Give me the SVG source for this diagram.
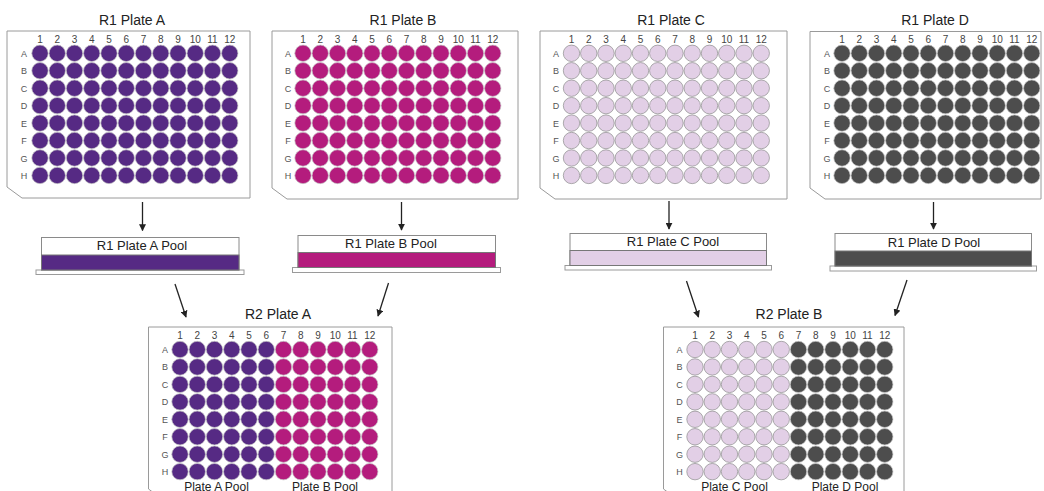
<svg xmlns="http://www.w3.org/2000/svg" xmlns:xlink="http://www.w3.org/1999/xlink" width="1044" height="491" viewBox="0 0 1044 491">
<style>
text{font-family:"Liberation Sans",Arial,sans-serif;}
.title{font-size:14px;fill:#222;text-anchor:middle;}
.pooltxt{font-size:13px;fill:#222;text-anchor:middle;}
.cn{font-size:10px;fill:#444;text-anchor:middle;}
.rl{font-size:9px;fill:#555;text-anchor:middle;}
.bl{font-size:12px;fill:#222;text-anchor:middle;}
.plate{fill:#fff;stroke:#9a9a9a;stroke-width:1;}
.pw{fill:#fff;stroke:#8a8a8a;stroke-width:1;}
.base{fill:#fff;stroke:#9a9a9a;stroke-width:1;}
.purple{fill:#562a84;stroke:#c4c4c4;stroke-width:0.7;}
.magenta{fill:#b41c7d;stroke:#c4c4c4;stroke-width:0.7;}
.lilac{fill:#e2cfe6;stroke:#8c8c8c;stroke-width:0.7;}
.dark{fill:#4d4d4d;stroke:#c4c4c4;stroke-width:0.7;}
.arrow{stroke:#222;stroke-width:1.3;fill:none;marker-end:url(#ah);}
</style>
<defs>
<marker id="ah" viewBox="0 0 10 10" refX="9" refY="5" markerWidth="7" markerHeight="7" markerUnits="userSpaceOnUse" orient="auto">
<path d="M0,0 L10,5 L0,10 Z" fill="#222"/>
</marker>
<g id="half">
<circle cx="0" cy="0" r="8.2"/><circle cx="17.25" cy="0" r="8.2"/><circle cx="34.5" cy="0" r="8.2"/><circle cx="51.75" cy="0" r="8.2"/><circle cx="69" cy="0" r="8.2"/><circle cx="86.25" cy="0" r="8.2"/>
</g>
<g id="halfwells">
<use xlink:href="#half" y="0"/><use xlink:href="#half" y="17.45"/><use xlink:href="#half" y="34.9"/><use xlink:href="#half" y="52.35"/><use xlink:href="#half" y="69.8"/><use xlink:href="#half" y="87.25"/><use xlink:href="#half" y="104.7"/><use xlink:href="#half" y="122.15"/>
</g>
</defs>

<g id="r1-plate-a">
<text class="title" x="132" y="25">R1 Plate A</text>
<path class="plate" d="M7,31 H250 V198 H22 L7,187 Z"/>
<text class="cn" y="43"><tspan x="40">1</tspan><tspan x="57.25">2</tspan><tspan x="74.5">3</tspan><tspan x="91.75">4</tspan><tspan x="109">5</tspan><tspan x="126.25">6</tspan><tspan x="143.5">7</tspan><tspan x="160.75">8</tspan><tspan x="178">9</tspan><tspan x="195.25">10</tspan><tspan x="212.5">11</tspan><tspan x="229.75">12</tspan></text>
<text class="rl"><tspan x="24" y="56.8">A</tspan><tspan x="24" y="74.25">B</tspan><tspan x="24" y="91.7">C</tspan><tspan x="24" y="109.15">D</tspan><tspan x="24" y="126.6">E</tspan><tspan x="24" y="144.05">F</tspan><tspan x="24" y="161.5">G</tspan><tspan x="24" y="178.95">H</tspan></text>
<g class="purple"><use xlink:href="#halfwells" x="40" y="53.3"/><use xlink:href="#halfwells" x="143.5" y="53.3"/></g>
</g>

<g id="r1-plate-b">
<text class="title" x="403" y="25">R1 Plate B</text>
<path class="plate" d="M272,31 H518 V199 H287 L272,188 Z"/>
<text class="cn" y="43"><tspan x="303">1</tspan><tspan x="320.25">2</tspan><tspan x="337.5">3</tspan><tspan x="354.75">4</tspan><tspan x="372">5</tspan><tspan x="389.25">6</tspan><tspan x="406.5">7</tspan><tspan x="423.75">8</tspan><tspan x="441">9</tspan><tspan x="458.25">10</tspan><tspan x="475.5">11</tspan><tspan x="492.75">12</tspan></text>
<text class="rl"><tspan x="288" y="56.8">A</tspan><tspan x="288" y="74.25">B</tspan><tspan x="288" y="91.7">C</tspan><tspan x="288" y="109.15">D</tspan><tspan x="288" y="126.6">E</tspan><tspan x="288" y="144.05">F</tspan><tspan x="288" y="161.5">G</tspan><tspan x="288" y="178.95">H</tspan></text>
<g class="magenta"><use xlink:href="#halfwells" x="303" y="53.3"/><use xlink:href="#halfwells" x="406.5" y="53.3"/></g>
</g>

<g id="r1-plate-c">
<text class="title" x="671" y="25">R1 Plate C</text>
<path class="plate" d="M540,31 H787 V199 H555 L540,188 Z"/>
<text class="cn" y="43"><tspan x="571.5">1</tspan><tspan x="588.75">2</tspan><tspan x="606">3</tspan><tspan x="623.25">4</tspan><tspan x="640.5">5</tspan><tspan x="657.75">6</tspan><tspan x="675">7</tspan><tspan x="692.25">8</tspan><tspan x="709.5">9</tspan><tspan x="726.75">10</tspan><tspan x="744">11</tspan><tspan x="761.25">12</tspan></text>
<text class="rl"><tspan x="556" y="56.8">A</tspan><tspan x="556" y="74.25">B</tspan><tspan x="556" y="91.7">C</tspan><tspan x="556" y="109.15">D</tspan><tspan x="556" y="126.6">E</tspan><tspan x="556" y="144.05">F</tspan><tspan x="556" y="161.5">G</tspan><tspan x="556" y="178.95">H</tspan></text>
<g class="lilac"><use xlink:href="#halfwells" x="571.5" y="53.3"/><use xlink:href="#halfwells" x="675" y="53.3"/></g>
</g>

<g id="r1-plate-d">
<text class="title" x="935" y="25">R1 Plate D</text>
<path class="plate" d="M810,31.5 H1041 V199 H825 L810,188 Z"/>
<text class="cn" y="43"><tspan x="842">1</tspan><tspan x="859.25">2</tspan><tspan x="876.5">3</tspan><tspan x="893.75">4</tspan><tspan x="911">5</tspan><tspan x="928.25">6</tspan><tspan x="945.5">7</tspan><tspan x="962.75">8</tspan><tspan x="980">9</tspan><tspan x="997.25">10</tspan><tspan x="1014.5">11</tspan><tspan x="1031.75">12</tspan></text>
<text class="rl"><tspan x="827" y="56.8">A</tspan><tspan x="827" y="74.25">B</tspan><tspan x="827" y="91.7">C</tspan><tspan x="827" y="109.15">D</tspan><tspan x="827" y="126.6">E</tspan><tspan x="827" y="144.05">F</tspan><tspan x="827" y="161.5">G</tspan><tspan x="827" y="178.95">H</tspan></text>
<g class="dark"><use xlink:href="#halfwells" x="842" y="53.3"/><use xlink:href="#halfwells" x="945.5" y="53.3"/></g>
</g>

<g id="pool-a">
<rect class="base" x="36" y="270" width="208" height="4.5"/>
<rect class="pw" x="41.5" y="237.5" width="197.5" height="32.5"/>
<rect x="41.5" y="255" width="197.5" height="15" fill="#562a84" stroke="#777" stroke-width="1"/>
<text class="pooltxt" x="142" y="249.5">R1 Plate A Pool</text>
</g>

<g id="pool-b">
<rect class="base" x="292.5" y="267.5" width="208" height="5"/>
<rect class="pw" x="298" y="235.5" width="197.5" height="32"/>
<rect x="298" y="252.5" width="197.5" height="15" fill="#b41c7d" stroke="#777" stroke-width="1"/>
<text class="pooltxt" x="391" y="248">R1 Plate B Pool</text>
</g>

<g id="pool-c">
<rect class="base" x="565" y="265.5" width="206.5" height="4.5"/>
<rect class="pw" x="570" y="233.5" width="196.5" height="32"/>
<rect x="570" y="250.5" width="196.5" height="15" fill="#e2cfe6" stroke="#777" stroke-width="1"/>
<text class="pooltxt" x="673" y="246">R1 Plate C Pool</text>
</g>

<g id="pool-d">
<rect class="base" x="830" y="266" width="206.5" height="5"/>
<rect class="pw" x="835" y="233.5" width="196.5" height="32.5"/>
<rect x="835" y="251" width="196.5" height="15" fill="#4d4d4d" stroke="#777" stroke-width="1"/>
<text class="pooltxt" x="934" y="246.5">R1 Plate D Pool</text>
</g>

<g id="r2-plate-a">
<text class="title" x="278" y="319">R2 Plate A</text>
<path class="plate" d="M148.5,327 H392 V500 H163.5 L148.5,489 Z"/>
<text class="cn" y="339"><tspan x="180">1</tspan><tspan x="197.25">2</tspan><tspan x="214.5">3</tspan><tspan x="231.75">4</tspan><tspan x="249">5</tspan><tspan x="266.25">6</tspan><tspan x="283.5">7</tspan><tspan x="300.75">8</tspan><tspan x="318">9</tspan><tspan x="335.25">10</tspan><tspan x="352.5">11</tspan><tspan x="369.75">12</tspan></text>
<text class="rl"><tspan x="165" y="353">A</tspan><tspan x="165" y="370.45">B</tspan><tspan x="165" y="387.9">C</tspan><tspan x="165" y="405.35">D</tspan><tspan x="165" y="422.8">E</tspan><tspan x="165" y="440.25">F</tspan><tspan x="165" y="457.7">G</tspan><tspan x="165" y="475.15">H</tspan></text>
<g class="purple"><use xlink:href="#halfwells" x="180" y="349.5"/></g>
<g class="magenta"><use xlink:href="#halfwells" x="283.5" y="349.5"/></g>
<text class="bl" x="216.5" y="491">Plate A Pool</text>
<text class="bl" x="325" y="491">Plate B Pool</text>
</g>

<g id="r2-plate-b">
<text class="title" x="789" y="319">R2 Plate B</text>
<path class="plate" d="M663.5,327 H904 V500 H678.5 L663.5,489 Z"/>
<text class="cn" y="339"><tspan x="695">1</tspan><tspan x="712.25">2</tspan><tspan x="729.5">3</tspan><tspan x="746.75">4</tspan><tspan x="764">5</tspan><tspan x="781.25">6</tspan><tspan x="798.5">7</tspan><tspan x="815.75">8</tspan><tspan x="833">9</tspan><tspan x="850.25">10</tspan><tspan x="867.5">11</tspan><tspan x="884.75">12</tspan></text>
<text class="rl"><tspan x="679.5" y="353">A</tspan><tspan x="679.5" y="370.45">B</tspan><tspan x="679.5" y="387.9">C</tspan><tspan x="679.5" y="405.35">D</tspan><tspan x="679.5" y="422.8">E</tspan><tspan x="679.5" y="440.25">F</tspan><tspan x="679.5" y="457.7">G</tspan><tspan x="679.5" y="475.15">H</tspan></text>
<g class="lilac"><use xlink:href="#halfwells" x="695" y="349.5"/></g>
<g class="dark"><use xlink:href="#halfwells" x="798.5" y="349.5"/></g>
<text class="bl" x="734.5" y="490.5">Plate C Pool</text>
<text class="bl" x="845" y="490.5">Plate D Pool</text>
</g>

<g id="connectors">
<line class="arrow" x1="142.5" y1="202" x2="142.5" y2="230.5"/>
<line class="arrow" x1="401.5" y1="202" x2="401.5" y2="230"/>
<line class="arrow" x1="669" y1="201" x2="669" y2="229"/>
<line class="arrow" x1="933.5" y1="202" x2="933.5" y2="229"/>
<line class="arrow" x1="175" y1="284" x2="186" y2="317"/>
<line class="arrow" x1="388.5" y1="283" x2="378" y2="316"/>
<line class="arrow" x1="686.5" y1="281" x2="698.5" y2="317"/>
<line class="arrow" x1="907" y1="280" x2="895" y2="315.5"/>
</g>
</svg>
